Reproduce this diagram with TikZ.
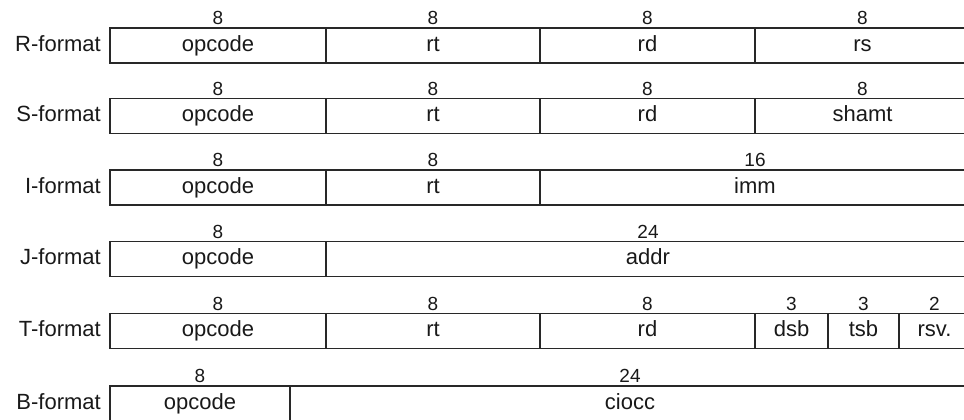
\documentclass[tikz,border=0pt]{standalone}
\usepackage{fontspec}
\setmainfont{Liberation Sans}
\usepackage{xcolor}
\usetikzlibrary{positioning}
\definecolor{FieldLine}{RGB}{40,40,40}
\definecolor{FieldText}{RGB}{25,25,25}

\begin{document}
\begin{tikzpicture}[x=1pt,y=-1pt,every node/.style={text=FieldText}]
\tikzset{field/.style={draw=FieldLine,line width=1.6pt,outer sep=0pt,inner sep=0pt,minimum height=35pt,
    font=\fontsize{22}{25}\selectfont,text height=16pt,text depth=4.5pt},
  bits/.style={font=\fontsize{19}{21}\selectfont,inner sep=0pt,label distance=3pt},
  fmt/.style={font=\fontsize{22}{25}\selectfont,inner sep=0pt,text height=16pt,text depth=4.5pt,left=9pt of #1}}
\useasboundingbox (0,0) rectangle (964,420);
% R-format
\node[field,anchor=north west,minimum width=216pt,label={[bits]above:8}] (Rop) at (110,28) {opcode};
\node[field,right=0pt of Rop,minimum width=214pt,label={[bits]above:8}] (Rrt) {rt};
\node[field,right=0pt of Rrt,minimum width=215pt,label={[bits]above:8}] (Rrd) {rd};
\node[field,right=0pt of Rrd,minimum width=215pt,label={[bits]above:8}] (Rrs) {rs};
\node[fmt=Rop] (Rname) {R-format};
% S-format
\node[field,anchor=north west,minimum width=216pt,label={[bits]above:8}] (Sop) at (110,98.5) {opcode};
\node[field,right=0pt of Sop,minimum width=214pt,label={[bits]above:8}] (Srt) {rt};
\node[field,right=0pt of Srt,minimum width=215pt,label={[bits]above:8}] (Srd) {rd};
\node[field,right=0pt of Srd,minimum width=215pt,label={[bits]above:8}] (Ssh) {shamt};
\node[fmt=Sop] (Sname) {S-format};
% I-format
\node[field,anchor=north west,minimum width=216pt,label={[bits]above:8}] (Iop) at (110,170) {opcode};
\node[field,right=0pt of Iop,minimum width=214pt,label={[bits]above:8}] (Irt) {rt};
\node[field,right=0pt of Irt,minimum width=430pt,label={[bits]above:16}] (Iimm) {imm};
\node[fmt=Iop] (Iname) {I-format};
% J-format
\node[field,anchor=north west,minimum width=216pt,label={[bits]above:8}] (Jop) at (110,241.5) {opcode};
\node[field,right=0pt of Jop,minimum width=644pt,label={[bits]above:24}] (Jaddr) {addr};
\node[fmt=Jop] (Jname) {J-format};
% T-format
\node[field,anchor=north west,minimum width=216pt,label={[bits]above:8}] (Top) at (110,313.5) {opcode};
\node[field,right=0pt of Top,minimum width=214pt,label={[bits]above:8}] (Trt) {rt};
\node[field,right=0pt of Trt,minimum width=215pt,label={[bits]above:8}] (Trd) {rd};
\node[field,right=0pt of Trd,minimum width=73pt,label={[bits]above:3}] (Tdsb) {dsb};
\node[field,right=0pt of Tdsb,minimum width=71pt,label={[bits]above:3}] (Ttsb) {tsb};
\node[field,right=0pt of Ttsb,minimum width=71pt,label={[bits]above:2}] (Trsv) {rsv.};
\node[fmt=Top] (Tname) {T-format};
% B-format
\node[field,anchor=north west,minimum width=180pt,label={[bits]above:8}] (Bop) at (110,386) {opcode};
\node[field,right=0pt of Bop,minimum width=680pt,label={[bits]above:24}] (Bci) {ciocc};
\node[fmt=Bop] (Bname) {B-format};
\end{tikzpicture}
\end{document}
